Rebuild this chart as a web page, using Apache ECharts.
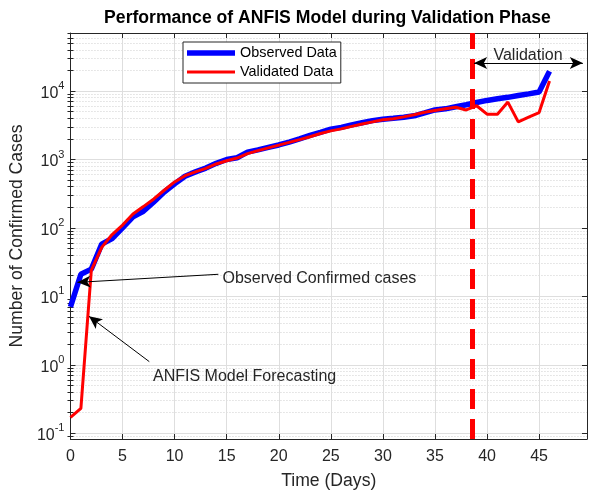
<!DOCTYPE html>
<html>
<head>
<meta charset="utf-8">
<script src="https://cdn.jsdelivr.net/npm/echarts@6/dist/echarts.min.js"></script>
<style>html,body{margin:0;padding:0;background:#fff}#c{width:590px;height:495px}</style>
</head>
<body>
<div id="c"></div>
<script>
// ---- data ----
const days = [0,1,2,3,4,5,6,7,8,9,10,11,12,13,14,15,16,17,18,19,20,21,22,23,24,25,26,27,28,29,30,31,32,33,34,35,36,37,38,39,40,41,42,43,44,45,46];
const observed = [7,21,25,58,70,100,145,175,240,335,440,570,660,750,880,1000,1060,1280,1380,1500,1630,1800,2000,2250,2500,2780,2950,3200,3450,3700,3880,4000,4150,4350,4800,5300,5500,5900,6300,6800,7300,7700,8100,8600,9100,9700,19500];
const validated = [0.17,0.23,24,52,80,110,160,205,265,355,470,580,660,740,860,960,1050,1220,1350,1480,1620,1780,1950,2150,2400,2620,2800,3050,3300,3550,3800,3950,4200,4500,4900,5200,5500,5800,5300,6100,4600,4600,6900,3550,4150,4850,14000];
const xTickValues = [0,5,10,15,20,25,30,35,40,45];
const yTickExponents = [-1,0,1,2,3,4];
const validationDay = 38.6;
const seriesNames = ['Observed Data','Validated Data'];

// ---- helpers ----
const L = Math.log10;
const FF = "'Liberation Sans', Arial, Helvetica, sans-serif";
const AX = '#262626';
const yMin = L(0.0822), yMax = L(70600);
const xMin = 0, xMax = 49.6;
const minorY = [];
for (let d = -2; d <= 4; d++) {
  for (let m = 2; m <= 9; m++) {
    const v = L(m) + d;
    if (v > yMin && v < yMax) minorY.push(v);
  }
}
const toLog = arr => days.map((d, i) => [d, L(arr[i])]);
// legend line icons (invisible moveTo points keep the 48x14 box)
const thickIcon = 'path://M0,0M48,14M0,4.3L48,4.3L48,9.7L0,9.7Z';
const thinIcon = 'path://M0,0M48,14M0,5.4L48,5.4L48,8.6L0,8.6Z';

const chart = echarts.init(document.getElementById('c'), null, {renderer: 'canvas'});

const option = {
  animation: false,
  backgroundColor: '#fff',
  textStyle: {fontFamily: FF},
  grid: {left: 68, right: 3, top: 33, bottom: 52, containLabel: false},
  legend: {
    data: [{name: seriesNames[0], icon: thickIcon}, {name: seriesNames[1], icon: thinIcon}],
    orient: 'vertical',
    left: 183, top: 42,
    padding: [4, 4, 4, 4],
    itemGap: 5,
    itemWidth: 48, itemHeight: 14,
    borderColor: AX, borderWidth: 1,
    backgroundColor: '#fff',
    textStyle: {fontSize: 14.4, color: '#000', fontFamily: FF}
  },
  xAxis: [
    {
      type: 'value', min: xMin, max: xMax, position: 'bottom',
      axisLine: {show: true, onZero: false, lineStyle: {color: AX, width: 1}},
      axisTick: {show: true, inside: true, length: 5, customValues: xTickValues, lineStyle: {color: AX}},
      axisLabel: {customValues: xTickValues, color: AX, fontSize: 16, margin: 10, fontFamily: FF},
      splitLine: {show: true, lineStyle: {color: '#dedede', width: 1}},
      name: 'Time (Days)', nameLocation: 'middle', nameGap: 33,
      nameTextStyle: {fontSize: 17.6, color: AX, fontFamily: FF}
    },
    {
      type: 'value', min: xMin, max: xMax, position: 'top',
      axisLine: {show: true, onZero: false, lineStyle: {color: AX, width: 1}},
      axisTick: {show: true, inside: true, length: 5, customValues: xTickValues, lineStyle: {color: AX}},
      axisLabel: {show: false},
      splitLine: {show: false}
    }
  ],
  yAxis: [
    {
      type: 'value', min: yMin, max: yMax, position: 'left',
      axisLine: {show: true, onZero: false, lineStyle: {color: AX, width: 1}},
      axisTick: {show: true, inside: true, length: 5, customValues: yTickExponents, lineStyle: {color: AX}},
      axisLabel: {
        customValues: yTickExponents, margin: 6, color: AX,
        formatter: v => '{b|10}{s|' + String(Math.round(v)) + '}',
        rich: {
          b: {fontSize: 16, color: AX, fontFamily: FF, padding: [5, 0, 0, 0]},
          s: {fontSize: 11, color: AX, fontFamily: FF, verticalAlign: 'top'}
        }
      },
      splitLine: {show: true, lineStyle: {color: '#dedede', width: 1}},
      name: 'Number of Confirmed Cases', nameLocation: 'middle', nameGap: 41,
      nameTextStyle: {fontSize: 17.6, color: AX, fontFamily: FF}
    },
    {
      type: 'value', min: yMin, max: yMax, position: 'left',
      axisLine: {show: false},
      axisTick: {show: true, inside: true, length: 3, customValues: minorY, lineStyle: {color: AX}},
      axisLabel: {show: false},
      splitLine: {show: true, lineStyle: {color: '#cfcfcf', width: 1, type: [1, 2]}}
    },
    {
      type: 'value', min: yMin, max: yMax, position: 'right',
      axisLine: {show: true, onZero: false, lineStyle: {color: AX, width: 1}},
      axisTick: {show: true, inside: true, length: 5, customValues: yTickExponents, lineStyle: {color: AX}},
      axisLabel: {show: false},
      splitLine: {show: false}
    },
    {
      type: 'value', min: yMin, max: yMax, position: 'right',
      axisLine: {show: false},
      axisTick: {show: true, inside: true, length: 3, customValues: minorY, lineStyle: {color: AX}},
      axisLabel: {show: false},
      splitLine: {show: false}
    }
  ],
  series: [
    {
      name: seriesNames[0], type: 'line', xAxisIndex: 0, yAxisIndex: 0,
      data: toLog(observed), symbol: 'none', showSymbol: false,
      lineStyle: {color: '#0000ff', width: 5.5},
      itemStyle: {color: '#0000ff'},
      z: 2
    },
    {
      name: seriesNames[1], type: 'line', xAxisIndex: 0, yAxisIndex: 0,
      data: toLog(validated), symbol: 'none', showSymbol: false,
      lineStyle: {color: '#ff0000', width: 3},
      itemStyle: {color: '#ff0000'},
      z: 3,
      markLine: {
        silent: true, symbol: ['none', 'none'], label: {show: false},
        lineStyle: {color: '#ff0000', width: 5, type: [20, 10]},
        data: [{xAxis: validationDay}]
      }
    },
    {
      name: 'annotations', type: 'line', xAxisIndex: 0, yAxisIndex: 0,
      data: [], z: 5,
      markLine: {
        silent: true, symbol: ['none', 'arrow'], symbolSize: [9, 13],
        label: {show: false},
        lineStyle: {color: '#000', width: 1, type: 'solid'},
        data: [
          [{coord: [14.2, L(21)]}, {coord: [0.67, L(16)]}],
          [{coord: [7.57, L(1.11)]}, {coord: [1.78, L(5.1)]}],
          [{coord: [38.76, L(25800)], symbol: 'arrow'}, {coord: [49.2, L(25800)], symbol: 'arrow'}]
        ]
      }
    }
  ],
  graphic: [
    {type: 'text', x: 327.5, y: 18.5, z: 10,
     style: {text: 'Performance of ANFIS Model during Validation Phase', font: 'bold 17.6px ' + FF, fill: '#000', textAlign: 'center', textVerticalAlign: 'middle'}},
    {type: 'text', x: 222.5, y: 279, z: 10,
     style: {text: 'Observed Confirmed cases', font: '16px ' + FF, fill: '#262626', textAlign: 'left', textVerticalAlign: 'middle'}},
    {type: 'text', x: 153, y: 377, z: 10,
     style: {text: 'ANFIS Model Forecasting', font: '16px ' + FF, fill: '#262626', textAlign: 'left', textVerticalAlign: 'middle'}},
    {type: 'text', x: 528, y: 56, z: 10,
     style: {text: 'Validation', font: '16px ' + FF, fill: '#262626', textAlign: 'center', textVerticalAlign: 'middle'}}
  ]
};
chart.setOption(option);
</script>
</body>
</html>
